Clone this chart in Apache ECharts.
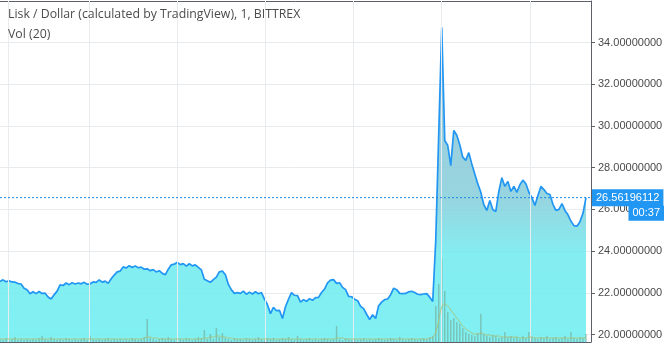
<!DOCTYPE html>
<html>
<head>
<meta charset="utf-8">
<script src="https://cdn.jsdelivr.net/npm/echarts@6/dist/echarts.min.js"></script>
<style>
  html, body { margin: 0; padding: 0; background: #ffffff; }
  #chart { width: 666px; height: 345px; }
</style>
</head>
<body>
<div id="chart"></div>
<script>
// LSK/USD, 1-minute feed, sampled every 3 minutes
const STEP = 3;
const titleText = 'Lisk / Dollar (calculated by TradingView), 1, BITTREX';
const volText = 'Vol (20)';
const lastPrice = 26.56196112;
const countdown = '00:37';

const prices = [
  22.54, 22.62, 22.53, 22.58, 22.52, 22.51, 22.44, 22.42, 22.22, 22.14,
  21.95, 22.05, 21.96, 22.06, 21.97, 21.98, 21.80, 21.70, 21.90, 22.08,
  22.38, 22.35, 22.47, 22.39, 22.48, 22.42, 22.47, 22.43, 22.50, 22.41,
  22.43, 22.52, 22.50, 22.62, 22.51, 22.56, 22.45, 22.67, 22.85, 23.00,
  23.04, 23.24, 23.19, 23.30, 23.21, 23.29, 23.20, 23.23, 23.13, 23.15,
  23.06, 23.11, 23.00, 23.06, 22.93, 22.86, 23.13, 23.34, 23.37, 23.46,
  23.35, 23.40, 23.28, 23.39, 23.29, 23.34, 23.22, 23.10, 22.65, 22.58,
  22.50, 22.63, 22.75, 23.01, 23.04, 22.86, 22.40, 22.14, 21.97, 22.01,
  21.97, 22.08, 21.93, 22.03, 21.94, 22.05, 21.95, 22.01, 21.70, 21.43,
  21.00, 21.30, 21.14, 21.16, 20.77, 21.33, 21.69, 22.01, 21.88, 21.86,
  21.55, 21.67, 21.59, 21.72, 21.64, 21.77, 21.78, 22.01, 22.18, 22.48,
  22.61, 22.63, 22.45, 22.48, 22.26, 22.15, 21.83, 21.81, 21.69, 21.62,
  21.35, 21.24, 20.97, 20.72, 20.95, 20.77, 21.38, 21.55, 21.67, 21.70,
  21.91, 22.22, 22.15, 21.97, 21.96, 21.97, 22.05, 22.07, 22.01, 21.93,
  21.91, 21.94, 21.96, 21.79, 21.58, 24.51, 29.64, 34.72, 29.30, 29.06,
  28.10, 29.78, 29.55, 29.10, 28.50, 28.35, 28.72, 28.18, 27.70, 27.22,
  26.82, 26.22, 25.95, 26.42, 25.98, 25.90, 26.86, 27.52, 27.10, 27.34,
  26.86, 27.10, 26.82, 27.18, 27.40, 27.23, 26.82, 26.56, 26.19, 26.66,
  27.10, 26.95, 26.76, 26.71, 26.24, 25.95, 26.00, 26.27, 25.95, 25.74,
  25.43, 25.22, 25.19, 25.41, 25.81, 26.56196112
];

const volumes = [
  3, 2, 4, 2, 3, 5, 2, 3, 2, 3,
  2, 3, 2, 4, 6, 3, 2, 5, 3, 2,
  3, 2, 4, 3, 2, 3, 2, 3, 4, 2,
  6, 3, 2, 3, 2, 3, 4, 2, 3, 2,
  3, 2, 3, 2, 4, 3, 2, 3, 5, 23,
  4, 3, 2, 3, 4, 3, 5, 3, 2, 4,
  3, 2, 4, 3, 2, 3, 5, 4, 12, 3,
  8, 3, 14, 5, 9, 4, 3, 2, 4, 3,
  3, 2, 4, 3, 2, 3, 5, 3, 2, 4,
  3, 4, 2, 3, 4, 3, 5, 3, 2, 6,
  3, 2, 3, 4, 2, 3, 2, 3, 4, 3,
  2, 3, 16, 3, 2, 4, 3, 2, 3, 2,
  3, 4, 2, 3, 2, 3, 4, 3, 2, 3,
  4, 3, 2, 5, 3, 2, 3, 4, 3, 2,
  3, 4, 3, 5, 6, 36, 58, 83, 51, 30,
  22, 24, 20, 18, 14, 10, 8, 7, 6, 9,
  28, 8, 6, 5, 7, 6, 4, 5, 10, 5,
  6, 4, 5, 3, 6, 4, 10, 5, 4, 3,
  5, 4, 6, 3, 4, 5, 3, 4, 6, 3,
  10, 4, 3, 5, 4, 8
];

const volumeMA = [
  3, 3, 3, 3, 3, 3, 3, 3, 3, 3,
  3, 3, 3, 3, 3, 3, 3, 3, 3, 3,
  3, 3, 3, 3, 3, 3, 3, 3, 3, 3,
  3, 3, 3, 3, 3, 3, 3, 3, 3, 3,
  3, 3, 3, 3, 3, 3, 3, 3, 4, 5,
  5, 4, 4, 3, 3, 3, 3, 3, 3, 3,
  3, 3, 3, 3, 3, 3, 3, 3, 4, 4,
  5, 5, 6, 6, 5, 5, 4, 4, 3, 3,
  3, 3, 3, 3, 3, 3, 3, 3, 3, 3,
  3, 3, 3, 3, 3, 3, 3, 3, 3, 3,
  3, 3, 3, 3, 3, 3, 3, 3, 3, 3,
  3, 3, 4, 4, 4, 3, 3, 3, 3, 3,
  3, 3, 3, 3, 3, 3, 3, 3, 3, 3,
  3, 3, 3, 3, 3, 3, 3, 3, 3, 3,
  3, 3, 3, 4, 5, 10, 22, 35, 38, 36,
  32, 28, 24, 20, 16, 13, 11, 9, 8, 8,
  9, 8, 7, 7, 6, 6, 6, 5, 5, 5,
  5, 5, 5, 4, 4, 4, 5, 5, 4, 4,
  4, 4, 4, 4, 4, 4, 4, 4, 4, 4,
  4, 4, 4, 4, 4, 4
];

// vertical grid positions (minutes from the left edge)
const gridTimes = [8, 89, 177, 265, 353, 441, 529];

const X_MAX = 590;
const Y_MIN = 19.64;
const Y_MAX = 35.99;

const pricePairs = prices.map((p, i) => [i * STEP, p]);
const volumePairs = volumes.map((v, i) => [i * STEP, v]);
const maPairs = volumeMA.map((v, i) => [i * STEP, v]);
const lastPriceLine = [[0, lastPrice], [X_MAX, lastPrice]];

const chart = echarts.init(document.getElementById('chart'), null, { renderer: 'canvas' });

const axisDark = '#5d606b';
const gridColor = '#e8ecef';
const priceBlue = '#2196f3';
const labelFont = 'Liberation Sans, Arial, sans-serif';
const titleStyle = { fontSize: 12.3, fontWeight: 'normal', color: '#4c4c4c', fontFamily: 'Open Sans, sans-serif' };

chart.setOption({
  animation: false,
  backgroundColor: '#ffffff',
  title: [
    { text: titleText, left: 8, top: 8, padding: 0, textStyle: titleStyle },
    { text: volText, left: 8, top: 28, padding: 0, textStyle: titleStyle }
  ],
  grid: [
    { left: 0, right: 75, top: 1, bottom: 3 },
    { left: 0, right: 75, bottom: 3, height: 100 }
  ],
  xAxis: [
    { type: 'value', gridIndex: 0, min: 0, max: X_MAX, position: 'top',
      axisLine: { show: true, onZero: false, lineStyle: { color: axisDark, width: 1 } },
      axisTick: { show: false }, axisLabel: { show: false }, splitLine: { show: false } },
    { type: 'value', gridIndex: 1, min: 0, max: X_MAX, position: 'bottom',
      axisLine: { show: true, onZero: false, lineStyle: { color: axisDark, width: 1 } },
      axisTick: { show: false }, axisLabel: { show: false }, splitLine: { show: false } }
  ],
  yAxis: [
    { type: 'value', gridIndex: 0, position: 'right', min: Y_MIN, max: Y_MAX, splitNumber: 8,
      axisLine: { show: true, onZero: false, lineStyle: { color: axisDark, width: 1 } },
      axisTick: { show: true, length: 4, lineStyle: { color: axisDark } },
      axisLabel: { show: true, color: '#4a4a4a', fontSize: 11, fontFamily: labelFont, margin: 7,
        showMinLabel: false, showMaxLabel: false,
        formatter: v => v.toFixed(8) },
      splitLine: { show: true, lineStyle: { color: gridColor, width: 1 } } },
    { type: 'value', gridIndex: 1, min: 0, max: 100, show: false,
      axisLine: { onZero: false }, splitLine: { show: false } }
  ],
  series: [
    {
      name: 'timeGrid', type: 'line', xAxisIndex: 0, yAxisIndex: 0, data: [], z: 1,
      markLine: {
        silent: true, symbol: 'none', animation: false,
        label: { show: false },
        lineStyle: { color: gridColor, type: 'solid', width: 1 },
        data: gridTimes.map(t => ({ xAxis: t }))
      }
    },
    {
      name: 'LSKUSD', type: 'line', xAxisIndex: 0, yAxisIndex: 0, data: pricePairs, z: 3,
      showSymbol: false, symbol: 'none',
      lineStyle: { color: priceBlue, width: 1.7 },
      areaStyle: {
        origin: 'start',
        opacity: 1,
        color: new echarts.graphic.LinearGradient(0, 0, 0, 1, [
          { offset: 0, color: 'rgba(149,190,214,0.85)' },
          { offset: 0.35, color: 'rgba(138,200,216,0.85)' },
          { offset: 0.55, color: 'rgba(132,206,219,0.85)' },
          { offset: 0.72, color: 'rgba(110,234,238,0.85)' },
          { offset: 1, color: 'rgba(106,238,240,0.85)' }
        ])
      }
    },
    {
      name: 'Vol', type: 'bar', xAxisIndex: 1, yAxisIndex: 1, data: volumePairs, z: 4,
      barWidth: 1.5,
      itemStyle: { color: 'rgba(115,160,140,0.55)' }
    },
    {
      name: 'Vol MA', type: 'line', xAxisIndex: 1, yAxisIndex: 1, data: maPairs, z: 5,
      smooth: true, showSymbol: false, symbol: 'none',
      lineStyle: { color: 'rgba(175,190,110,0.85)', width: 1 }
    },
    {
      // dashed last-price line with its axis tag
      name: 'lastPrice', type: 'line', xAxisIndex: 0, yAxisIndex: 0, data: lastPriceLine, z: 6,
      showSymbol: false, symbol: 'none', clip: false,
      lineStyle: { color: '#1e88e5', type: [2, 2], width: 1 },
      endLabel: {
        show: true, distance: 1,
        formatter: () => lastPrice.toFixed(8),
        color: '#ffffff', backgroundColor: priceBlue,
        fontSize: 11, fontFamily: labelFont, padding: [3, 4, 3, 4]
      }
    }
  ]
});

// countdown box just under the last-price tag
const tagY = chart.convertToPixel({ yAxisIndex: 0 }, lastPrice);
chart.setOption({
  graphic: [{
    type: 'text', right: 2, top: tagY + 8, z: 100,
    style: {
      text: countdown, fill: '#ffffff', backgroundColor: priceBlue,
      font: '11px ' + labelFont, padding: [2, 4, 2, 4]
    }
  }]
});
</script>
</body>
</html>
